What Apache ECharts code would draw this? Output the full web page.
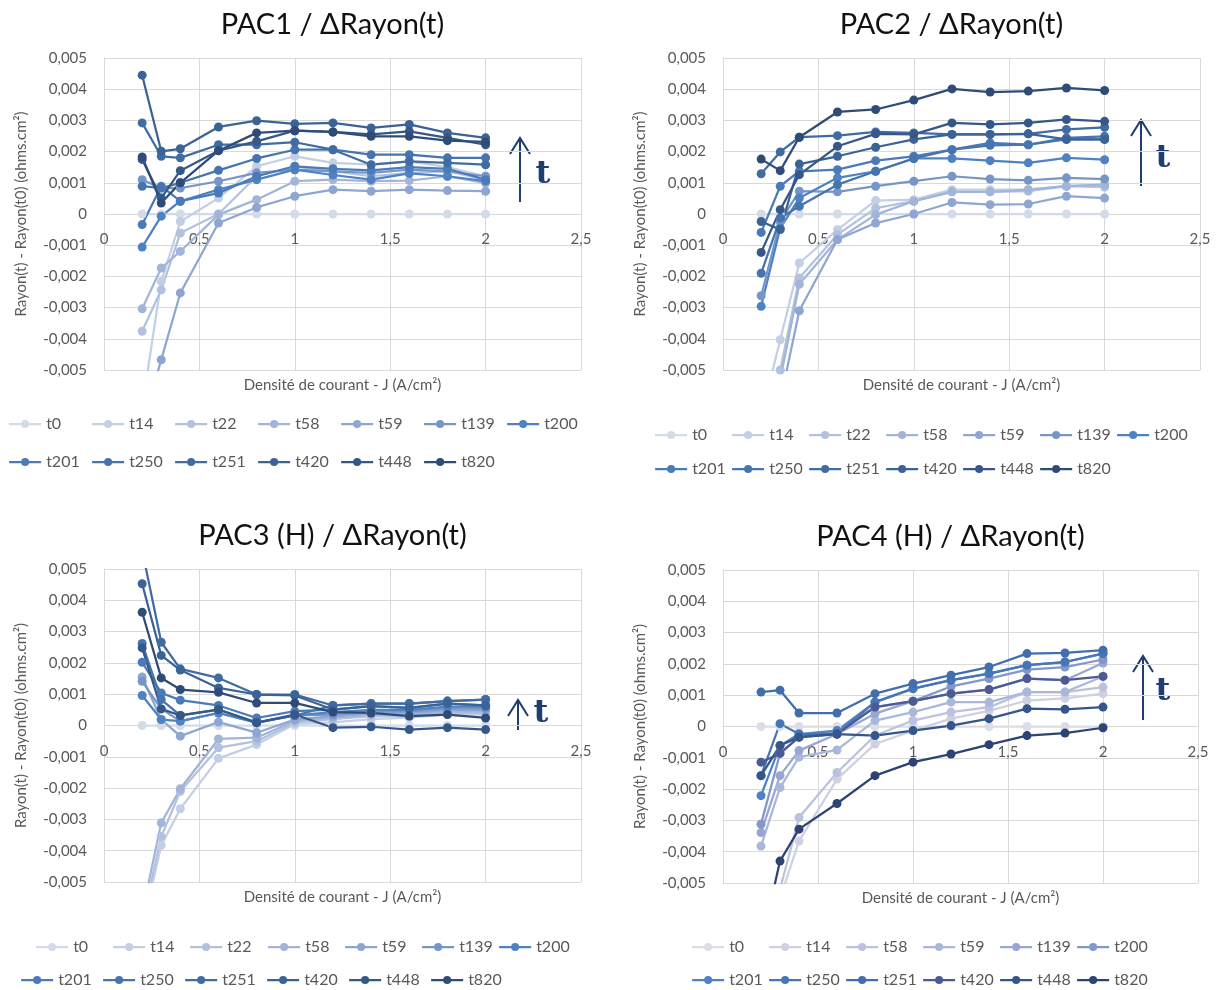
<!DOCTYPE html>
<html><head><meta charset="utf-8">
<script src="https://cdn.jsdelivr.net/npm/echarts@6/dist/echarts.min.js"></script>
<style>html,body{margin:0;padding:0;background:#fff}#c{width:1221px;height:990px}</style>
</head><body><div id="c"></div>
<script>
// Current density J (A/cm²)
const J = [0.2, 0.3, 0.4, 0.6, 0.8, 1, 1.2, 1.4, 1.6, 1.8, 2];
const names13 = ['t0','t14','t22','t58','t59','t139','t200','t201','t250','t251','t420','t448','t820'];
const names12 = ['t0','t14','t58','t59','t139','t200','t201','t250','t251','t420','t448','t820'];
const titles = ['PAC1 / \u0394Rayon(t)', 'PAC2 / \u0394Rayon(t)', 'PAC3 (H) / \u0394Rayon(t)', 'PAC4 (H) / \u0394Rayon(t)'];
const xTicks = [0, 0.5, 1, 1.5, 2, 2.5];

// PAC1
const pac1_t0   = [0, 0, 0, 0, 0, 0, 0, 0, 0, 0, 0];
const pac1_t14  = [-0.0062, -0.00216, -0.00024, 0.00051, 0.00153, 0.00185, 0.00164, 0.00158, 0.00169, 0.0015, 0.00121];
const pac1_t22  = [-0.00376, -0.00243, -0.00061, 0.0, 0.00121, 0.00153, 0.00137, 0.00121, 0.00132, 0.00137, 0.0011];
const pac1_t58  = [-0.00304, -0.00173, -0.0012, -0.00002, 0.00046, 0.00105, 0.0011, 0.00105, 0.00107, 0.00121, 0.00099];
const pac1_t59  = [-0.0068, -0.00467, -0.00253, -0.00029, 0.00021, 0.00057, 0.00078, 0.00073, 0.00078, 0.00075, 0.00073];
const pac1_t139 = [0.0011, 0.00083, 0.00083, 0.00105, 0.00132, 0.00142, 0.00137, 0.00132, 0.00142, 0.00137, 0.00121];
const pac1_t200 = [-0.00106, -0.00007, 0.00041, 0.00078, 0.0011, 0.00142, 0.00125, 0.0011, 0.0013, 0.00121, 0.00105];
const pac1_t201 = [-0.00034, 0.00089, 0.00041, 0.00067, 0.00121, 0.00153, 0.00145, 0.0014, 0.0015, 0.00145, 0.0011];
const pac1_t250 = [0.00089, 0.00083, 0.001, 0.0014, 0.00178, 0.00206, 0.00206, 0.0019, 0.0019, 0.0018, 0.0018];
const pac1_t251 = [0.00292, 0.00185, 0.0018, 0.00222, 0.00222, 0.0023, 0.00206, 0.00158, 0.00169, 0.00164, 0.00158];
const pac1_t420 = [0.00445, 0.00201, 0.00209, 0.00279, 0.00299, 0.00289, 0.00292, 0.00276, 0.00287, 0.0026, 0.00244];
const pac1_t448 = [0.00175, 0.00051, 0.00139, 0.00203, 0.00233, 0.00267, 0.00263, 0.00255, 0.00265, 0.00244, 0.00222];
const pac1_t820 = [0.00183, 0.00035, 0.001, 0.00203, 0.0026, 0.00267, 0.00263, 0.00249, 0.00249, 0.00235, 0.00231];

// PAC2
const pac2_t0   = [0, 0, 0, 0, 0, 0, 0, 0, 0, 0, 0];
const pac2_t14  = [-0.0065, -0.00403, -0.00157, -0.0005, 0.00043, 0.00046, 0.00078, 0.00078, 0.00078, 0.00089, 0.00094];
const pac2_t22  = [-0.007, -0.005, -0.00205, -0.00066, 0.00019, 0.00041, 0.00071, 0.00071, 0.00073, 0.00089, 0.00086];
const pac2_t58  = [-0.0072, -0.0053, -0.00225, -0.00082, -0.00002, 0.00041, 0.00071, 0.00071, 0.00078, 0.00089, 0.00094];
const pac2_t59  = [-0.0075, -0.006, -0.0031, -0.00082, -0.00029, 0.0, 0.00037, 0.0003, 0.00032, 0.00057, 0.00051];
const pac2_t139 = [-0.00262, -0.00024, 0.00073, 0.00071, 0.00089, 0.00105, 0.00121, 0.00112, 0.00108, 0.00116, 0.00112];
const pac2_t200 = [-0.00296, -0.00045, 0.00051, 0.00116, 0.00137, 0.00178, 0.00178, 0.00171, 0.00164, 0.0018, 0.00174];
const pac2_t201 = [-0.00059, 0.00089, 0.00137, 0.00142, 0.00171, 0.00185, 0.00206, 0.00228, 0.00222, 0.00239, 0.00239];
const pac2_t250 = [-0.0019, -0.00013, 0.00025, 0.00094, 0.00137, 0.00178, 0.00206, 0.0022, 0.00222, 0.00244, 0.00249];
const pac2_t251 = [0.00129, 0.00199, 0.00246, 0.00251, 0.00263, 0.0026, 0.00255, 0.00255, 0.00257, 0.00271, 0.00278];
const pac2_t420 = [-0.00024, -0.0005, 0.0016, 0.00185, 0.00214, 0.00239, 0.00255, 0.00255, 0.00257, 0.00239, 0.00239];
const pac2_t448 = [-0.00123, 0.00014, 0.00126, 0.00217, 0.00257, 0.00255, 0.00292, 0.00287, 0.00292, 0.00303, 0.00297];
const pac2_t820 = [0.00176, 0.00139, 0.00246, 0.00327, 0.00335, 0.00365, 0.00401, 0.00391, 0.00394, 0.00404, 0.00396];

// PAC3 (H)
const pac3_t0   = [0, 0, 0, 0, 0, 0, 0, 0, 0, 0, 0];
const pac3_t14  = [-0.0065, -0.00383, -0.00266, -0.00105, -0.00061, 0.00005, 0.0001, 0.0002, 0.00025, 0.00035, 0.00035];
const pac3_t22  = [-0.0063, -0.00355, -0.0021, -0.00071, -0.0005, 0.0001, 0.0002, 0.0003, 0.0003, 0.0004, 0.0004];
const pac3_t58  = [-0.006, -0.00311, -0.00202, -0.00043, -0.00039, 0.00015, 0.00025, 0.00035, 0.00035, 0.00045, 0.00045];
const pac3_t59  = [0.00155, 0.00019, -0.00034, 0.00011, -0.00023, 0.00019, 0.0003, 0.0004, 0.0004, 0.0005, 0.0005];
const pac3_t139 = [0.00141, 0.00053, 0.00014, 0.0004, 0.00009, 0.00032, 0.00035, 0.00045, 0.00045, 0.00055, 0.00055];
const pac3_t200 = [0.00096, 0.00019, 0.00014, 0.0004, 0.00009, 0.00032, 0.00043, 0.0005, 0.0005, 0.0006, 0.0006];
const pac3_t201 = [0.00202, 0.00104, 0.00081, 0.00064, 0.00024, 0.00046, 0.00051, 0.00062, 0.00056, 0.0007, 0.00064];
const pac3_t250 = [0.00262, 0.00083, 0.00032, 0.00051, 0.00009, 0.00032, 0.00064, 0.0007, 0.0007, 0.00078, 0.00083];
const pac3_t251 = [0.0056, 0.00266, 0.00181, 0.00152, 0.00099, 0.00099, 0.00064, 0.0007, 0.0007, 0.00078, 0.00083];
const pac3_t420 = [0.00453, 0.00224, 0.00177, 0.0012, 0.00099, 0.00096, 0.00051, 0.00062, 0.00056, 0.0007, 0.00064];
const pac3_t448 = [0.00248, 0.00053, 0.00032, 0.00051, 0.00009, 0.00035, -0.00007, -0.00004, -0.00013, -0.00007, -0.00013];
const pac3_t820 = [0.00362, 0.00152, 0.00115, 0.00106, 0.00072, 0.00072, 0.00043, 0.0004, 0.0003, 0.00035, 0.00024];

// PAC4 (H)
const pac4_t0   = [0, 0, 0, 0, 0, 0, 0, 0, 0, 0, 0];
const pac4_t14  = [-0.0062, -0.0055, -0.00366, -0.00168, -0.00056, -0.00013, 0.00025, 0.0005, 0.00083, 0.0009, 0.00105];
const pac4_t58  = [-0.0058, -0.0052, -0.00291, -0.00147, -0.00029, 0.00019, 0.00046, 0.00062, 0.0011, 0.0011, 0.00126];
const pac4_t59  = [-0.00382, -0.00195, -0.00098, -0.00075, 0.00019, 0.00046, 0.00078, 0.00078, 0.0011, 0.0011, 0.0016];
const pac4_t139 = [-0.00339, -0.00157, -0.00077, -0.00024, 0.00041, 0.00081, 0.00105, 0.00118, 0.00153, 0.00148, 0.00203];
const pac4_t200 = [-0.00312, -0.00086, -0.00034, -0.00013, 0.00062, 0.00081, 0.00128, 0.00153, 0.00182, 0.0019, 0.00214];
const pac4_t201 = [-0.00221, -0.00061, -0.00024, -0.00013, 0.00078, 0.00121, 0.00148, 0.00169, 0.00196, 0.00206, 0.00233];
const pac4_t250 = [-0.00157, 0.00009, -0.00024, -0.00024, 0.00078, 0.00121, 0.00148, 0.00169, 0.00196, 0.00206, 0.00233];
const pac4_t251 = [0.0011, 0.00116, 0.00043, 0.00043, 0.00105, 0.00137, 0.00164, 0.0019, 0.00233, 0.00235, 0.00244];
const pac4_t420 = [-0.00114, -0.00086, -0.00034, -0.00024, 0.00062, 0.00081, 0.00105, 0.00118, 0.00153, 0.00148, 0.0016];
const pac4_t448 = [-0.00157, -0.00061, -0.00034, -0.00024, -0.00029, -0.00013, 0.00003, 0.00025, 0.00057, 0.00055, 0.00062];
const pac4_t820 = [-0.007, -0.0043, -0.00328, -0.00246, -0.00157, -0.00114, -0.00088, -0.00058, -0.00029, -0.00021, -0.00004];

const pac1 = [pac1_t0,pac1_t14,pac1_t22,pac1_t58,pac1_t59,pac1_t139,pac1_t200,pac1_t201,pac1_t250,pac1_t251,pac1_t420,pac1_t448,pac1_t820];
const pac2 = [pac2_t0,pac2_t14,pac2_t22,pac2_t58,pac2_t59,pac2_t139,pac2_t200,pac2_t201,pac2_t250,pac2_t251,pac2_t420,pac2_t448,pac2_t820];
const pac3 = [pac3_t0,pac3_t14,pac3_t22,pac3_t58,pac3_t59,pac3_t139,pac3_t200,pac3_t201,pac3_t250,pac3_t251,pac3_t420,pac3_t448,pac3_t820];
const pac4 = [pac4_t0,pac4_t14,pac4_t58,pac4_t59,pac4_t139,pac4_t200,pac4_t201,pac4_t250,pac4_t251,pac4_t420,pac4_t448,pac4_t820];

const colors13 = ['#d3dbe9','#c3cfe4','#b2c2de','#a2b5d8','#8ea6d1','#7796c8','#4f82c2','#4a7bb8','#4674ae','#416ca3','#3b6396','#355888','#2f4c77'];
const colors12 = ['#dcdde6','#cfd0e2','#bcc2de','#a9b8da','#97a6d3','#8596ca','#4f81c4','#4676b6','#426eae','#4d5a96','#34568a','#2c4374'];

const FONT = 'Lato, "Open Sans", sans-serif';
const GREY = '#595959';

const grids = [
  {left: 104, top: 58, width: 477, height: 312},
  {left: 723, top: 58, width: 477, height: 312},
  {left: 104, top: 569, width: 477, height: 313},
  {left: 723, top: 570, width: 475, height: 313}
];

const panels = [
  {data: pac1, names: names13, colors: colors13},
  {data: pac2, names: names13, colors: colors13},
  {data: pac3, names: names13, colors: colors13},
  {data: pac4, names: names12, colors: colors12}
];

const yFmt = v => Math.abs(v) < 1e-9 ? '0' : v.toFixed(3).replace('.', ',');
const xFmt = v => String(v).replace('.', ',');

const xAxes = [], yAxes = [], series = [], titleArr = [], legends = [], graphics = [];

// legend rows: [left, top, pitch] per row
const legendRows = [
  [[8, 416, 83], [8, 454, 83]],
  [[654, 427, 77], [654, 461, 77]],
  [[35, 939, 77.2], [20, 972, 82]],
  [[691, 939, 77], [691, 972, 77]]
];

panels.forEach((p, k) => {
  const g = grids[k];
  xAxes.push({
    gridIndex: k, type: 'value', min: 0, max: 2.5, interval: 0.5,
    position: 'bottom', offset: -g.height / 2,
    axisLine: {show: true, onZero: false, lineStyle: {color: '#d9d9d9', width: 1}},
    axisTick: {show: false},
    axisLabel: {color: GREY, fontSize: 15, fontFamily: FONT, margin: 18, formatter: xFmt},
    splitLine: {show: true, lineStyle: {color: '#d9d9d9', width: 1}}
  });
  yAxes.push({
    gridIndex: k, type: 'value', min: -0.005, max: 0.005, interval: 0.001,
    name: 'Rayon(t) - Rayon(t0) (ohms.cm\u00b2)', nameLocation: 'middle', nameGap: 75,
    nameTextStyle: {color: GREY, fontSize: 15, fontFamily: FONT},
    axisLine: {show: true, onZero: false, lineStyle: {color: '#d9d9d9', width: 1}},
    axisTick: {show: false},
    axisLabel: {color: GREY, fontSize: 15, fontFamily: FONT, margin: 17, formatter: yFmt},
    splitLine: {show: true, lineStyle: {color: '#d9d9d9', width: 1}}
  });
  p.data.forEach((arr, i) => {
    series.push({
      type: 'line', name: p.names[i], xAxisIndex: k, yAxisIndex: k,
      data: J.map((x, j) => [x, arr[j]]),
      symbol: 'circle', symbolSize: 9, clip: true,
      lineStyle: {color: p.colors[i], width: 2.25},
      itemStyle: {color: p.colors[i]},
      emphasis: {disabled: true}
    });
  });
  titleArr.push({
    text: titles[k], left: g.left + g.width / 2 - 15, top: g.top - 53, textAlign: 'center',
    textStyle: {color: '#111', fontSize: 29, fontWeight: 'normal', fontFamily: FONT}
  });
  // x axis name
  graphics.push({
    type: 'text', x: g.left + g.width / 2, y: g.top + g.height + 15,
    style: {text: 'Densit\u00e9 de courant - J (A/cm\u00b2)', fill: GREY, font: '15px ' + FONT, textAlign: 'center', textVerticalAlign: 'middle'}
  });
  // legend: one component per entry so that entries sit on a regular pitch
  const half = k === 3 ? 6 : 7;
  const rows = [p.names.slice(0, half), p.names.slice(half)];
  rows.forEach((rowNames, r) => {
    const [lx, ly, pitch] = legendRows[k][r];
    rowNames.forEach((n, i) => {
      const c = p.colors[p.names.indexOf(n)];
      legends.push({
        left: Math.round(lx + pitch * i), top: ly, orient: 'horizontal', padding: 0,
        itemWidth: 32, itemHeight: 10, selectedMode: false,
        textStyle: {color: GREY, fontSize: 16, fontFamily: FONT},
        data: [{name: n, itemStyle: {color: c}, lineStyle: {color: c, width: 2.25}}]
      });
    });
  });
});

// "t" arrows
const arrows = [
  {x: 520, y1: 202, y2: 138, tx: 543, ty: 175},
  {x: 1141, y1: 186, y2: 120, tx: 1163, ty: 159},
  {x: 518, y1: 730, y2: 700, tx: 541, ty: 714},
  {x: 1143, y1: 720, y2: 656, tx: 1163, ty: 692}
];
arrows.forEach(a => {
  graphics.push({type: 'line', shape: {x1: a.x, y1: a.y1, x2: a.x, y2: a.y2}, style: {stroke: '#1f3d6e', lineWidth: 2}});
  graphics.push({type: 'polyline', shape: {points: [[a.x - 10, a.y2 + 16], [a.x, a.y2], [a.x + 10, a.y2 + 16]]}, style: {stroke: '#1f3d6e', lineWidth: 2, fill: null}});
  graphics.push({type: 'text', x: a.tx, y: a.ty, style: {text: 't', fill: '#1f3d6e', font: 'bold 32px "DejaVu Serif", "Liberation Serif", serif', textAlign: 'center', textVerticalAlign: 'middle'}});
});

const chart = echarts.init(document.getElementById('c'), null, {renderer: 'canvas'});
chart.setOption({
  animation: false,
  backgroundColor: '#fff',
  title: titleArr,
  grid: grids,
  xAxis: xAxes,
  yAxis: yAxes,
  legend: legends,
  series: series,
  graphic: graphics
});
</script></body></html>
